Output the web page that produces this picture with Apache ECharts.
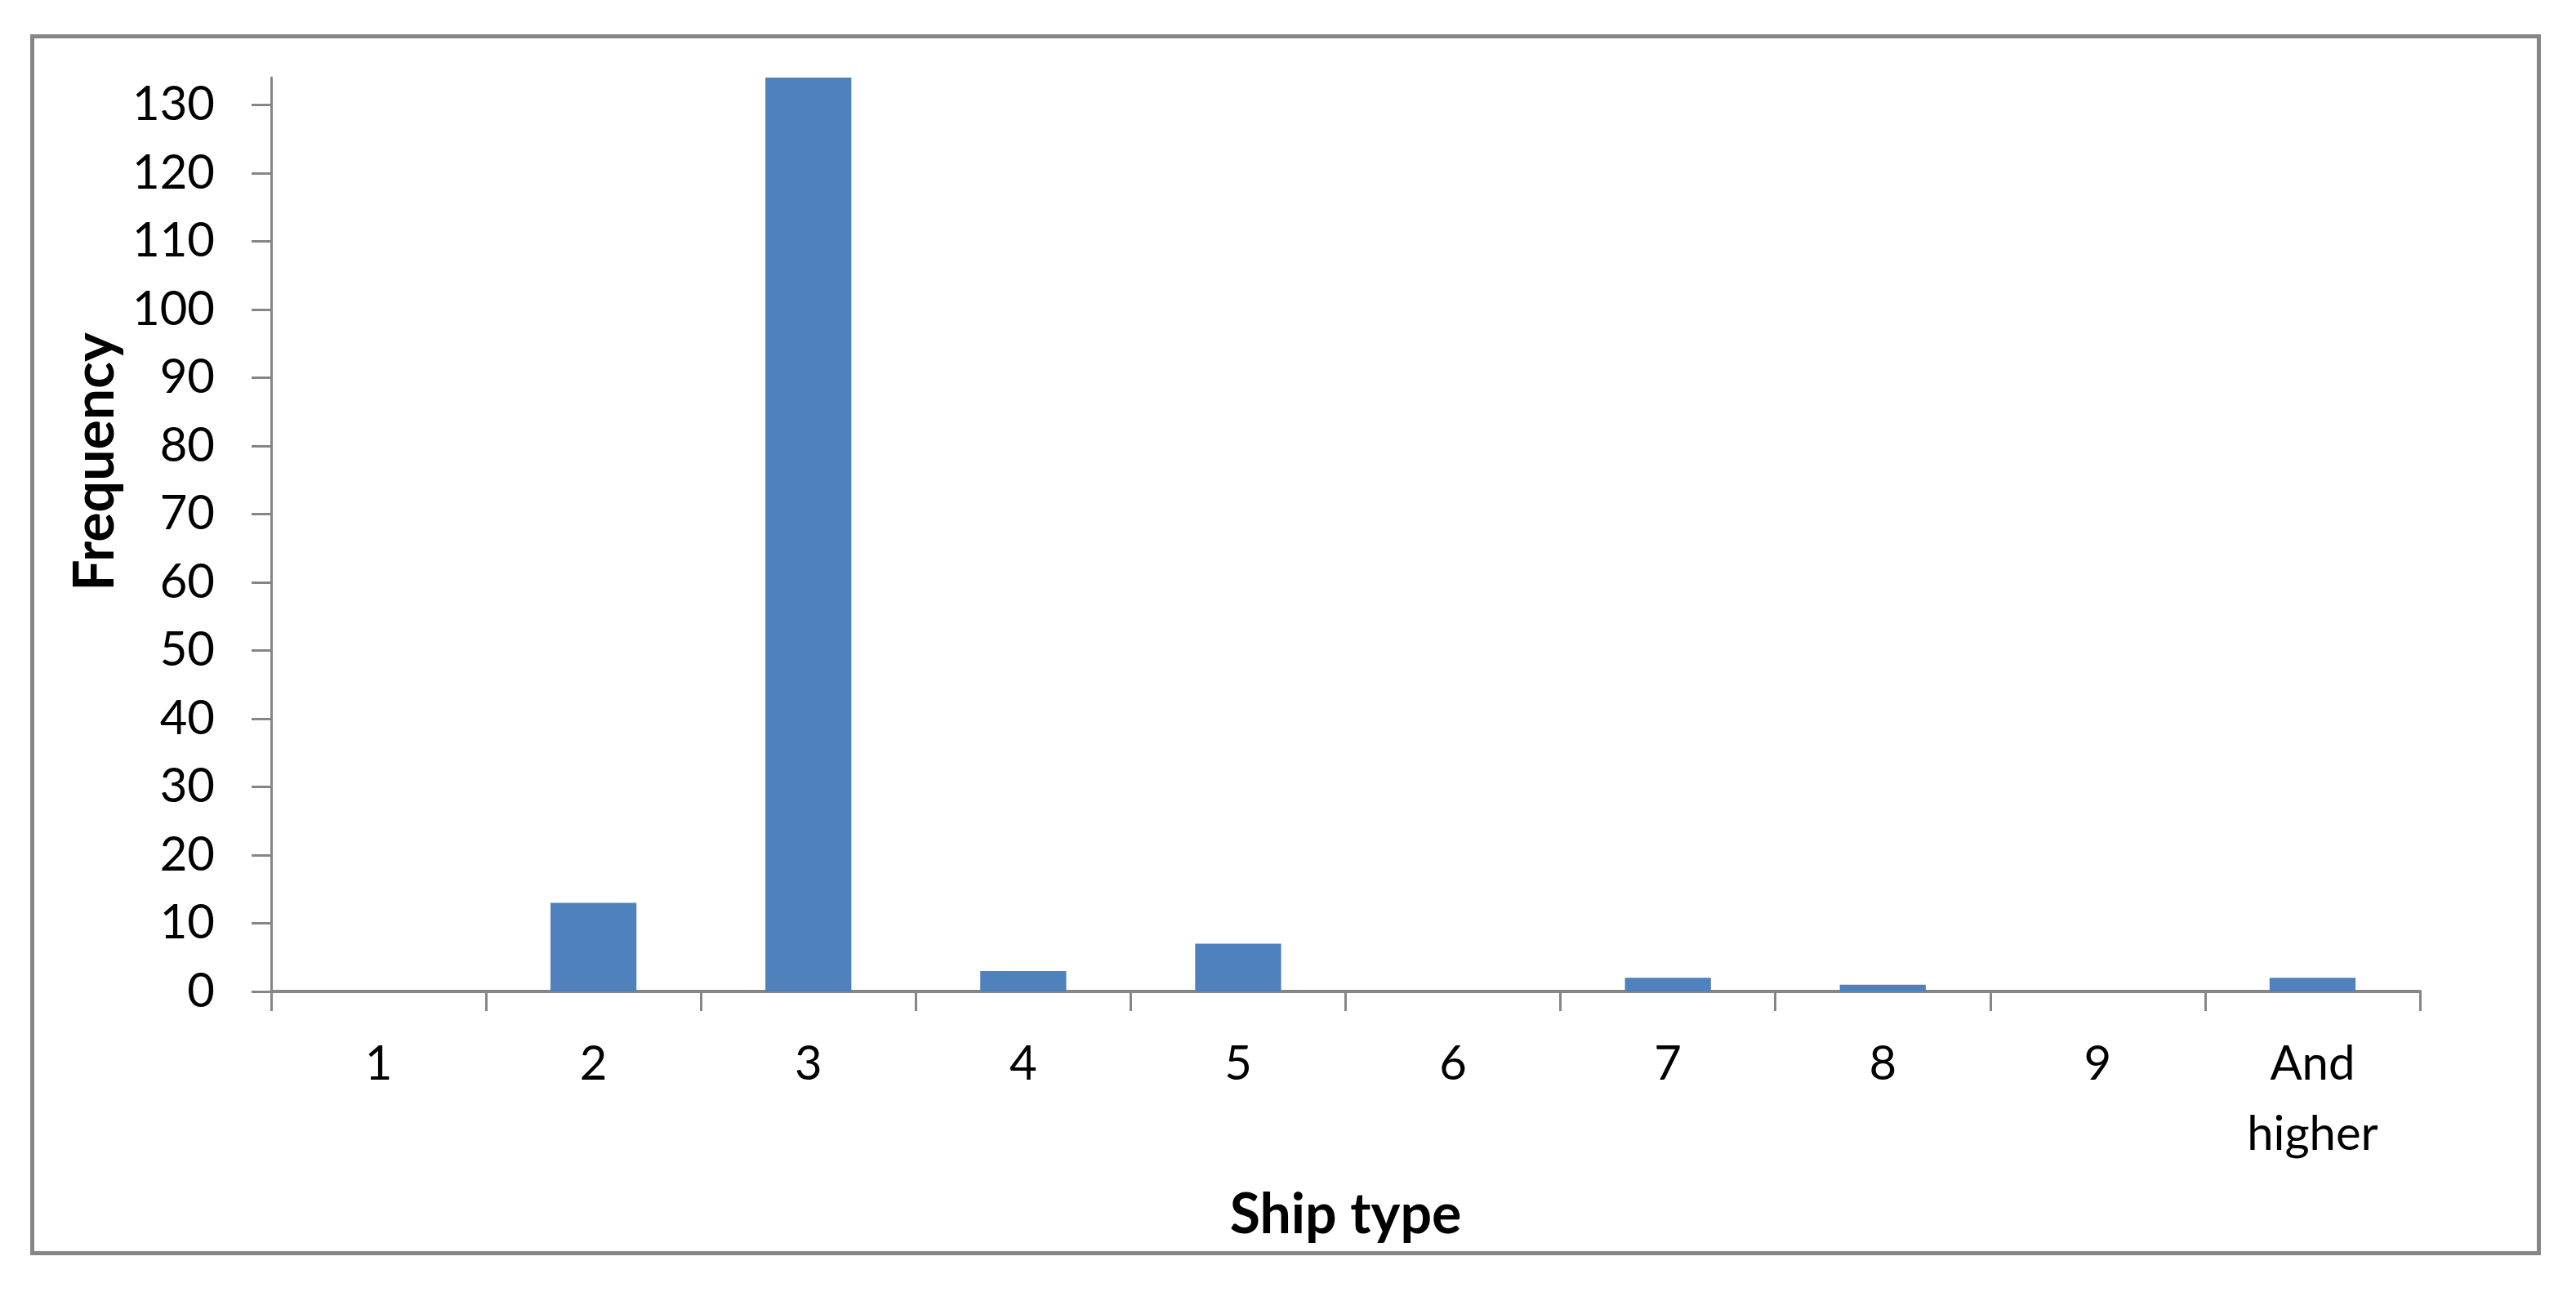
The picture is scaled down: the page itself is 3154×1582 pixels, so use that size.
<!DOCTYPE html>
<html>
<head>
<meta charset="utf-8">
<script src="https://cdn.jsdelivr.net/npm/echarts@6/dist/echarts.min.js"></script>
<style>
html,body{margin:0;padding:0;background:#fff;}
#c{width:3154px;height:1582px;}
</style>
</head>
<body>
<div id="c"></div>
<script>
const categories = ['1', '2', '3', '4', '5', '6', '7', '8', '9', 'And\nhigher'];
const frequency = [0, 13, 134, 3, 7, 0, 2, 1, 0, 2];
const yTicks = [0, 10, 20, 30, 40, 50, 60, 70, 80, 90, 100, 110, 120, 130];
const xTitle = 'Ship type';
const yTitle = 'Frequency';

const chart = echarts.init(document.getElementById('c'));
const FONT = 'Lato';
const AX = '#868686';
chart.setOption({
  animation: false,
  backgroundColor: '#fff',
  grid: { left: 332, right: 191, top: 95, bottom: 368, containLabel: false },
  graphic: [{
    type: 'rect',
    shape: { x: 39.5, y: 44.5, width: 3069, height: 1490 },
    style: { fill: 'none', stroke: AX, lineWidth: 5 },
    silent: true
  }],
  xAxis: {
    type: 'category',
    data: categories,
    boundaryGap: true,
    name: xTitle,
    nameLocation: 'middle',
    nameGap: 240,
    nameTextStyle: { fontFamily: FONT, fontWeight: 'bold', fontSize: 68, color: '#000' },
    axisLine: { lineStyle: { color: AX, width: 4 } },
    axisTick: { show: true, length: 24, lineStyle: { color: AX, width: 3 } },
    axisLabel: { fontFamily: FONT, fontSize: 58, color: '#000', margin: 46, lineHeight: 86, interval: 0 },
    splitLine: { show: false }
  },
  yAxis: {
    type: 'value',
    min: 0,
    max: 134,
    interval: 10,
    name: yTitle,
    nameLocation: 'middle',
    nameGap: 173,
    nameRotate: 90,
    nameTextStyle: { fontFamily: FONT, fontWeight: 'bold', fontSize: 68, color: '#000', padding: [0, 0, 0, 178] },
    axisLine: { show: true, lineStyle: { color: AX, width: 3 } },
    axisTick: { show: true, length: 24, customValues: yTicks, lineStyle: { color: AX, width: 3 } },
    axisLabel: { fontFamily: FONT, fontSize: 58, color: '#000', margin: 69, customValues: yTicks },
    splitLine: { show: false }
  },
  series: [{
    type: 'bar',
    data: frequency,
    barCategoryGap: '60%',
    itemStyle: { color: '#4F81BD' }
  }]
});
</script>
</body>
</html>
